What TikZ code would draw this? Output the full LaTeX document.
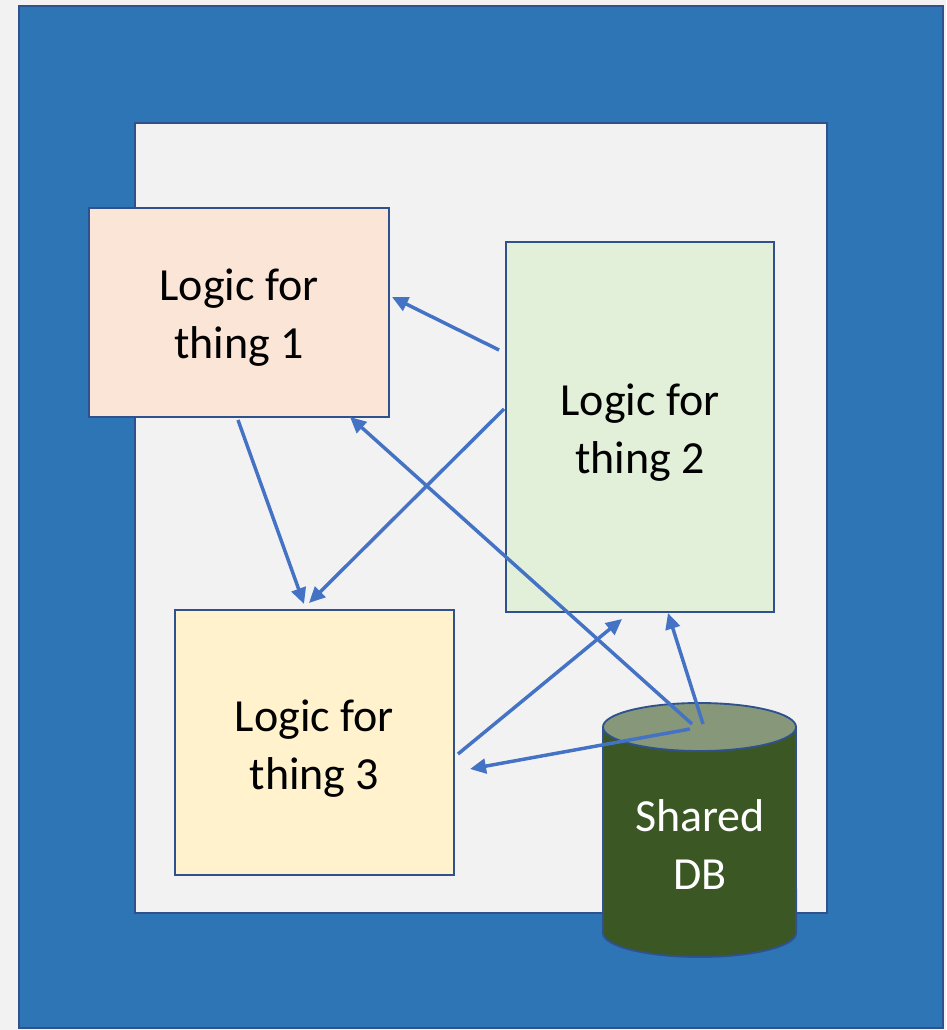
\documentclass[tikz,border=0pt]{standalone}
\usepackage{fontspec}
\setmainfont{Carlito}
\usetikzlibrary{arrows.meta}
\definecolor{bgray}{HTML}{F2F2F2}
\definecolor{outerblue}{HTML}{2E75B6}
\definecolor{bordc}{HTML}{2F528F}
\definecolor{peach}{HTML}{FBE5D6}
\definecolor{mint}{HTML}{E2F0D9}
\definecolor{cream}{HTML}{FFF2CC}
\definecolor{dbdark}{HTML}{3A5724}
\definecolor{dbtop}{HTML}{87987A}
\definecolor{arrc}{HTML}{4472C4}
\tikzset{
  logicbox/.style={draw=bordc, line width=1.4pt, inner sep=0pt},
  boxtext/.style={align=center, inner sep=0pt, font=\fontsize{34.5}{43.5}\selectfont},
  conn/.style={draw=arrc, line width=2.6pt, -{Triangle[length=12pt,width=11pt]}},
}
\begin{document}
\begin{tikzpicture}[x=0.75pt,y=-0.75pt]
\useasboundingbox (0,0) rectangle (946,1030);
\fill[bgray] (0,0) rectangle (946,1030);
\draw[fill=outerblue, draw=bordc, line width=1.5pt] (19,6) rectangle (943,1028);
\draw[fill=bgray, draw=bordc, line width=1.5pt] (135,123) rectangle (827,913);
\node[logicbox, fill=peach, minimum width=225pt, minimum height=156.75pt] (b1) at (239,312.5) {};
\node[logicbox, fill=mint, minimum width=201pt, minimum height=277.5pt] (b2) at (640,427) {};
\node[logicbox, fill=cream, minimum width=209.25pt, minimum height=198.75pt] (b3) at (314.5,742.5) {};
\node[boxtext] (t1) at (239,317.5) {Logic for\\thing 1};
\node[boxtext] (t2) at (640,433) {Logic for\\thing 2};
\node[boxtext] (t3) at (314.5,748.5) {Logic for\\thing 3};
% cylinder
\path[fill=dbdark, draw=bordc, line width=1.4pt] (603,727) -- (603,933) arc[start angle=180, end angle=360, x radius=72.4pt, y radius=18pt] -- (796,727);
\draw[fill=dbtop, draw=bordc, line width=1.4pt] (699.5,727) ellipse [x radius=72.4pt, y radius=18pt];
\node[boxtext, text=white] (db) at (700,845) {Shared\\DB};
% arrow endpoints
\coordinate (a1s) at (499,350); \coordinate (a1e) at (392,297);
\coordinate (a2s) at (504,409); \coordinate (a2e) at (309,603);
\coordinate (a3s) at (238,420); \coordinate (a3e) at (304,604);
\coordinate (a4s) at (692,724); \coordinate (a4e) at (350,417);
\coordinate (a5s) at (703,724); \coordinate (a5e) at (668,613);
\coordinate (a6s) at (458,754); \coordinate (a6e) at (622,619);
\coordinate (a7s) at (690,729); \coordinate (a7e) at (470,769);
\draw[conn] (a1s) -- (a1e);
\draw[conn] (a2s) -- (a2e);
\draw[conn] (a3s) -- (a3e);
\draw[conn] (a4s) -- (a4e);
\draw[conn] (a5s) -- (a5e);
\draw[conn] (a6s) -- (a6e);
\draw[conn] (a7s) -- (a7e);
\end{tikzpicture}
\end{document}
